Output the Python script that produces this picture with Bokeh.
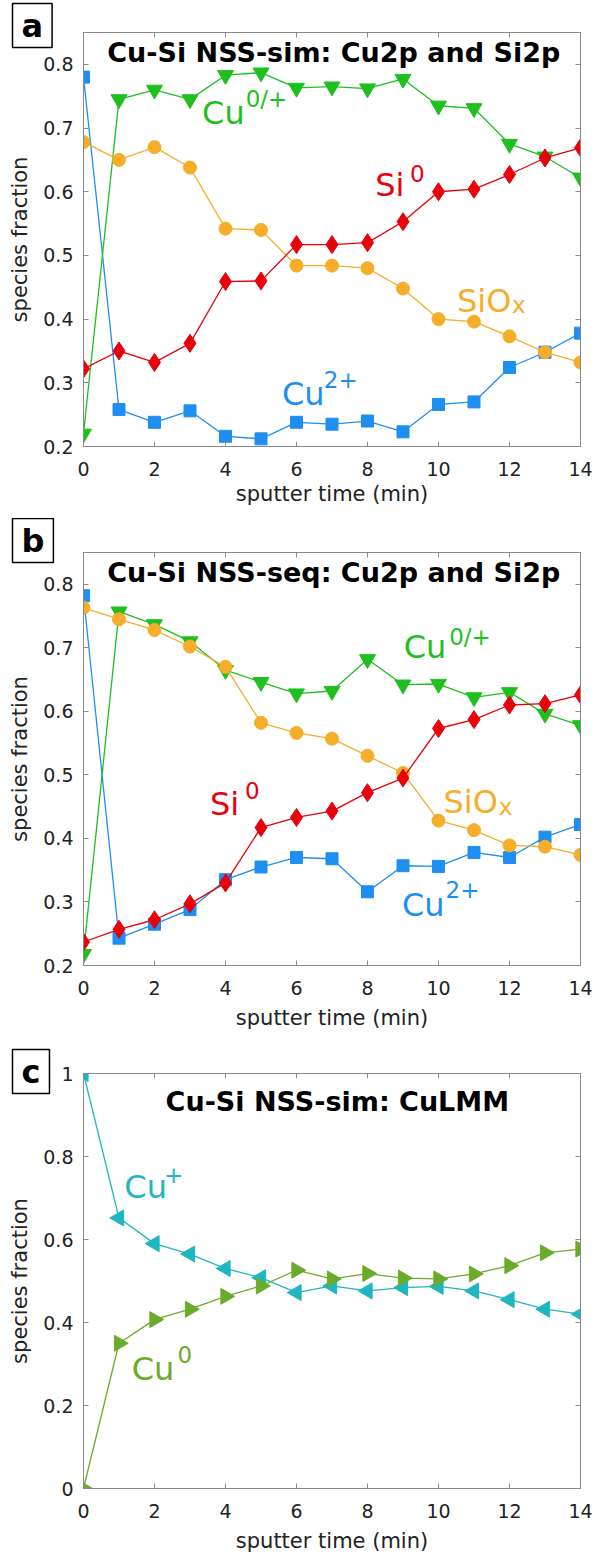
import math
from bokeh.plotting import figure
from bokeh.models import Label, LinearAxis, FixedTicker, Range1d, Title
from bokeh.layouts import column
from bokeh.embed import file_html
from bokeh.resources import INLINE

# ---------------- data ----------------
time = list(range(15))

# panel a: Cu-Si NSS-sim, Cu2p and Si2p
a_cu2 = [0.780, 0.258, 0.238, 0.256, 0.216, 0.212, 0.238, 0.235, 0.240, 0.223, 0.266, 0.270, 0.324, 0.348, 0.378]
a_cu0p = [0.220, 0.745, 0.760, 0.745, 0.783, 0.787, 0.763, 0.765, 0.762, 0.777, 0.735, 0.731, 0.675, 0.655, 0.622]
a_siox = [0.678, 0.650, 0.670, 0.638, 0.542, 0.540, 0.484, 0.484, 0.480, 0.448, 0.400, 0.396, 0.373, 0.348, 0.332]
a_si0 = [0.322, 0.350, 0.332, 0.362, 0.459, 0.460, 0.517, 0.517, 0.520, 0.553, 0.600, 0.604, 0.627, 0.653, 0.669]

# panel b: Cu-Si NSS-seq, Cu2p and Si2p
b_cu2 = [0.782, 0.243, 0.265, 0.288, 0.335, 0.355, 0.370, 0.368, 0.316, 0.357, 0.356, 0.378, 0.370, 0.402, 0.422]
b_cu0p = [0.218, 0.757, 0.737, 0.710, 0.665, 0.646, 0.628, 0.632, 0.682, 0.642, 0.643, 0.622, 0.630, 0.596, 0.578]
b_siox = [0.763, 0.745, 0.728, 0.702, 0.670, 0.582, 0.566, 0.557, 0.530, 0.503, 0.428, 0.413, 0.389, 0.387, 0.374]
b_si0 = [0.237, 0.257, 0.272, 0.297, 0.330, 0.417, 0.433, 0.443, 0.472, 0.495, 0.573, 0.587, 0.610, 0.612, 0.626]

# panel c: Cu-Si NSS-sim, CuLMM
c_cup = [1.000, 0.652, 0.590, 0.565, 0.530, 0.508, 0.472, 0.488, 0.476, 0.484, 0.487, 0.476, 0.455, 0.432, 0.420]
c_cu0 = [0.000, 0.350, 0.407, 0.432, 0.463, 0.488, 0.526, 0.505, 0.518, 0.507, 0.505, 0.517, 0.537, 0.568, 0.577]

x_ticks = [0, 2, 4, 6, 8, 10, 12, 14]
y_ticks_ab = [0.2, 0.3, 0.4, 0.5, 0.6, 0.7, 0.8]
y_ticks_c = [0, 0.2, 0.4, 0.6, 0.8, 1]
y_tick_labels_c = {0: "0", 0.2: "0.2", 0.4: "0.4", 0.6: "0.6", 0.8: "0.8", 1: "1"}

titles = ["Cu-Si NSS-sim: Cu2p and Si2p", "Cu-Si NSS-seq: Cu2p and Si2p", "Cu-Si NSS-sim: CuLMM"]
letters = ["a", "b", "c"]

# ---------------- style ----------------
FONT = "DejaVu Sans"
BLUE = "#1e8ff0"
GREEN = "#1fbf1f"
ORANGE = "#f5ad2a"
RED = "#e8000b"
CYAN = "#1fb6bf"
OLIVE = "#6aab2c"
AXC = "#8a8a8a"
TXT = "#222222"
W = 595
LIFT_PX = 12  # baseline correction for in-plot text labels, in pixels


def make_panel(height, btop, bbot, yr, yticks, lab_standoff, overrides=None):
    p = figure(width=W, height=height, x_range=Range1d(0, 14), y_range=Range1d(*yr),
               output_backend="svg", toolbar_location=None,
               min_border_left=83, min_border_right=15,
               min_border_top=btop, min_border_bottom=bbot)
    p.xgrid.visible = False
    p.ygrid.visible = False
    p.outline_line_color = AXC
    for ax in (p.xaxis[0], p.yaxis[0]):
        ax.major_tick_in = 5
        ax.major_tick_out = 0
        ax.minor_tick_line_color = None
        ax.axis_line_color = AXC
        ax.major_tick_line_color = AXC
        ax.major_label_text_font = FONT
        ax.major_label_text_font_size = "19px"
        ax.major_label_text_color = TXT
        ax.axis_label_text_font = FONT
        ax.axis_label_text_font_size = "21px"
        ax.axis_label_text_font_style = "normal"
        ax.axis_label_text_color = TXT
    p.xaxis.ticker = FixedTicker(ticks=x_ticks)
    p.yaxis.ticker = FixedTicker(ticks=yticks)
    if overrides:
        p.yaxis.major_label_overrides = overrides
    p.xaxis.axis_label = "sputter time (min)"
    p.yaxis.axis_label = "species fraction"
    p.xaxis.major_label_standoff = 15
    p.yaxis.major_label_standoff = 10
    p.xaxis.axis_label_standoff = lab_standoff
    p.yaxis.axis_label_standoff = 8
    for loc, tk in (("above", x_ticks), ("right", yticks)):
        ax = LinearAxis(ticker=FixedTicker(ticks=tk), major_label_text_font_size="1px",
                        major_label_overrides={t: "" for t in tk},
                        major_tick_in=5, major_tick_out=0, minor_tick_line_color=None,
                        axis_line_color=AXC, major_tick_line_color=AXC,
                        major_label_standoff=0)
        p.add_layout(ax, loc)
    return p


def series(p, y, color, marker, size, angle=0.0):
    p.line(time, y, line_color=color, line_width=1.3)
    p.scatter(time, y, marker=marker, size=size, fill_color=color, line_color=color, angle=angle)


def label(p, x, y, text, color, size, dy):
    p.add_layout(Label(x=x, y=y + dy, text=text, text_color=color, text_font=FONT,
                       text_font_size=size, text_baseline="alphabetic", text_align="left"))


def title(p, x, y, text, dy):
    p.add_layout(Label(x=x, y=y + dy, text=text, text_color="black", text_font=FONT,
                       text_font_size="27px", text_font_style="bold",
                       text_baseline="alphabetic", text_align="center"))


def letter(p, text, standoff):
    # boxed panel letter, drawn as a left-aligned title pulled into the top-left corner
    p.add_layout(Title(text=text, align="left", offset=-71, text_font=FONT,
                       text_font_size="32px", text_font_style="bold", text_color="black",
                       border_line_color="black", border_line_width=1.5,
                       background_fill_color="white", padding=(9, 3),
                       standoff=standoff), "above")


# ---------------- panel a ----------------
pa = make_panel(518, 32, 72, (0.2, 0.85), y_ticks_ab, 3)
da = LIFT_PX * 0.65 / 414.0
series(pa, a_cu2, BLUE, "square", 12)
series(pa, a_cu0p, GREEN, "inverted_triangle", 16)
series(pa, a_siox, ORANGE, "circle", 13)
series(pa, a_si0, RED, "diamond", 18)
title(pa, 7.05, 0.8, titles[0], da)
letter(pa, letters[0], -30)
label(pa, 3.34, 0.705, "Cu", GREEN, "32px", da)
label(pa, 4.57, 0.727, "0/+", GREEN, "23px", da)
label(pa, 8.22, 0.592, "Si", RED, "32px", da)
label(pa, 9.20, 0.610, "0", RED, "23px", da)
label(pa, 10.52, 0.410, "SiO", ORANGE, "32px", da)
label(pa, 12.07, 0.403, "x", ORANGE, "23px", da)
label(pa, 5.59, 0.264, "Cu", BLUE, "32px", da)
label(pa, 6.77, 0.287, "2+", BLUE, "23px", da)

# ---------------- panel b ----------------
pb = make_panel(526, 34, 79, (0.2, 0.85), y_ticks_ab, 8)
db = LIFT_PX * 0.65 / 413.0
series(pb, b_cu2, BLUE, "square", 12)
series(pb, b_cu0p, GREEN, "inverted_triangle", 16)
series(pb, b_siox, ORANGE, "circle", 13)
series(pb, b_si0, RED, "diamond", 18)
title(pb, 7.05, 0.8, titles[1], db)
letter(pb, letters[1], -20)
label(pb, 9.02, 0.683, "Cu", GREEN, "32px", db)
label(pb, 10.30, 0.698, "0/+", GREEN, "23px", db)
label(pb, 3.56, 0.436, "Si", RED, "32px", db)
label(pb, 4.55, 0.457, "0", RED, "23px", db)
label(pb, 10.14, 0.438, "SiO", ORANGE, "32px", db)
label(pb, 11.70, 0.431, "x", ORANGE, "23px", db)
label(pb, 8.97, 0.277, "Cu", BLUE, "32px", db)
label(pb, 10.20, 0.300, "2+", BLUE, "23px", db)

# ---------------- panel c ----------------
pc = make_panel(511, 29, 67, (0, 1), y_ticks_c, 8, y_tick_labels_c)
dc = LIFT_PX * 1.0 / 415.0
series(pc, c_cup, CYAN, "triangle", 16, math.pi / 2)
series(pc, c_cu0, OLIVE, "triangle", 16, -math.pi / 2)
title(pc, 7.15, 0.904, titles[2], dc)
letter(pc, letters[2], -40)
label(pc, 1.15, 0.698, "Cu", CYAN, "32px", dc)
label(pc, 2.27, 0.728, "+", CYAN, "23px", dc)
label(pc, 1.36, 0.260, "Cu", OLIVE, "32px", dc)
label(pc, 2.65, 0.294, "0", OLIVE, "23px", dc)

layout = column(pa, pb, pc, spacing=0)
open("out.html", "w").write(file_html(layout, INLINE))
